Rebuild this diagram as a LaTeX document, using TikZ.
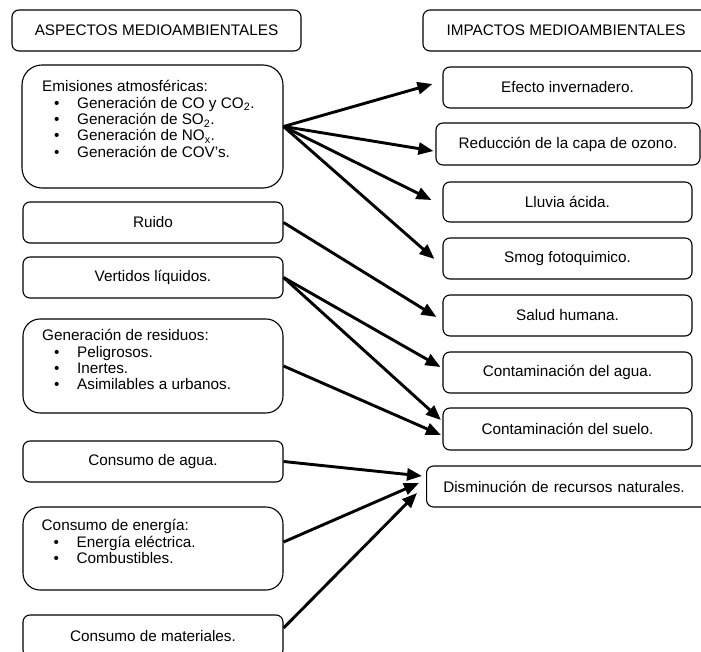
\documentclass[tikz,border=0pt]{standalone}
\usepackage{fontspec}
\setmainfont{Liberation Sans}
\usetikzlibrary{arrows.meta,calc}
\tikzset{
  box/.style={draw=black, line width=1.1pt, rounded corners=7pt, inner sep=0pt, align=center},
  bigbox/.style={box, rounded corners=17pt},
  listtext/.style={inner sep=0pt, align=left, anchor=north west},
  conn/.style={line width=2.9pt, -{Triangle[length=15pt,width=12pt]}},
}
\newcommand{\bul}[1]{\hspace*{12pt}\makebox[23pt][l]{•}#1}
\begin{document}
\begin{tikzpicture}[x=1pt,y=-1pt,font=\fontsize{15.3}{16.3}\selectfont]
\useasboundingbox (0,0) rectangle (701,652);
% left column
\node[box, minimum width=289, minimum height=41] (hdrL) at (156.5,30.5) {ASPECTOS MEDIOAMBIENTALES};
\node[bigbox, minimum width=261, minimum height=123, rounded corners=20pt] (emis) at (152.5,126.5) {};
\node[listtext] (emisT) at (42,80.5) {Emisiones atmosféricas:\\
\bul{Generación de CO y CO\textsubscript{2}.}\\
\bul{Generación de SO\textsubscript{2}.}\\
\bul{Generación de NO\textsubscript{x}.}\\
\bul{Generación de COV’s.}};
\node[box, minimum width=260, minimum height=41] (ruido) at (153,222.5) {Ruido};
\node[box, minimum width=260, minimum height=41] (vert) at (153,277.5) {Vertidos líquidos.};
\node[bigbox, minimum width=260, minimum height=94] (resid) at (153,366) {};
\node[listtext] (residT) at (42,329.5) {Generación de residuos:\\
\bul{Peligrosos.}\\
\bul{Inertes.}\\
\bul{Asimilables a urbanos.}};
\node[box, minimum width=260, minimum height=41] (agua) at (153,461.5) {Consumo de agua.};
\node[bigbox, minimum width=260, minimum height=83] (energ) at (153,548.5) {};
\node[listtext] (energT) at (41.5,519.5) {Consumo de energía:\\
\bul{Energía eléctrica.}\\
\bul{Combustibles.}};
\node[box, minimum width=260, minimum height=42] (mater) at (153,636) {Consumo de materiales.};
% right column
\node[box, minimum width=286, minimum height=41] (hdrR) at (566,30.5) {IMPACTOS MEDIOAMBIENTALES};
\node[box, minimum width=249, minimum height=41] (efecto) at (567.5,87.5) {Efecto invernadero.};
\node[box, minimum width=264, minimum height=42] (reduc) at (568,144) {Reducción de la capa de ozono.};
\node[box, minimum width=249, minimum height=40] (lluvia) at (567.5,202) {Lluvia ácida.};
\node[box, minimum width=249, minimum height=41] (smog) at (567.5,258.5) {Smog fotoquimico.};
\node[box, minimum width=249, minimum height=41] (salud) at (567.5,315.5) {Salud humana.};
\node[box, minimum width=249, minimum height=41] (cagua) at (567.5,372.5) {Contaminación del agua.};
\node[box, minimum width=249, minimum height=42] (csuelo) at (567.5,429) {Contaminación del suelo.};
\node[box, anchor=west, minimum height=41, text width=252.6pt, inner xsep=16.7pt, align=left] (dismin) at (426,486.5) {Disminución de recursos naturales.};
% connectors
\draw[conn] (emis.east) -- ($(efecto.west)+(-10,-3.5)$);
\draw[conn] (emis.east) -- ($(reduc.west)+(-2,7)$);
\draw[conn] (emis.east) -- ($(lluvia.west)+(-11,-2)$);
\draw[conn] (emis.east) -- ($(smog.west)+(-8,0.5)$);
\draw[conn] (ruido.east) -- ($(salud.west)+(-6,1.5)$);
\draw[conn] (vert.east) -- ($(cagua.west)+(-2,-5.5)$);
\draw[conn] (vert.east) -- ($(csuelo.west)+(-1.5,-9)$);
\draw[conn] (resid.east) -- ($(csuelo.west)+(-1.5,6)$);
\draw[conn] (agua.east) -- ($(dismin.west)+(-4,-10.5)$);
\draw[conn] ($(energ.east)+(0,-6.5)$) -- ($(dismin.west)+(-7,-3.5)$);
\draw[conn] ($(mater.east)+(0,-8)$) -- ($(dismin.west)+(-9,6.5)$);
\end{tikzpicture}
\end{document}
